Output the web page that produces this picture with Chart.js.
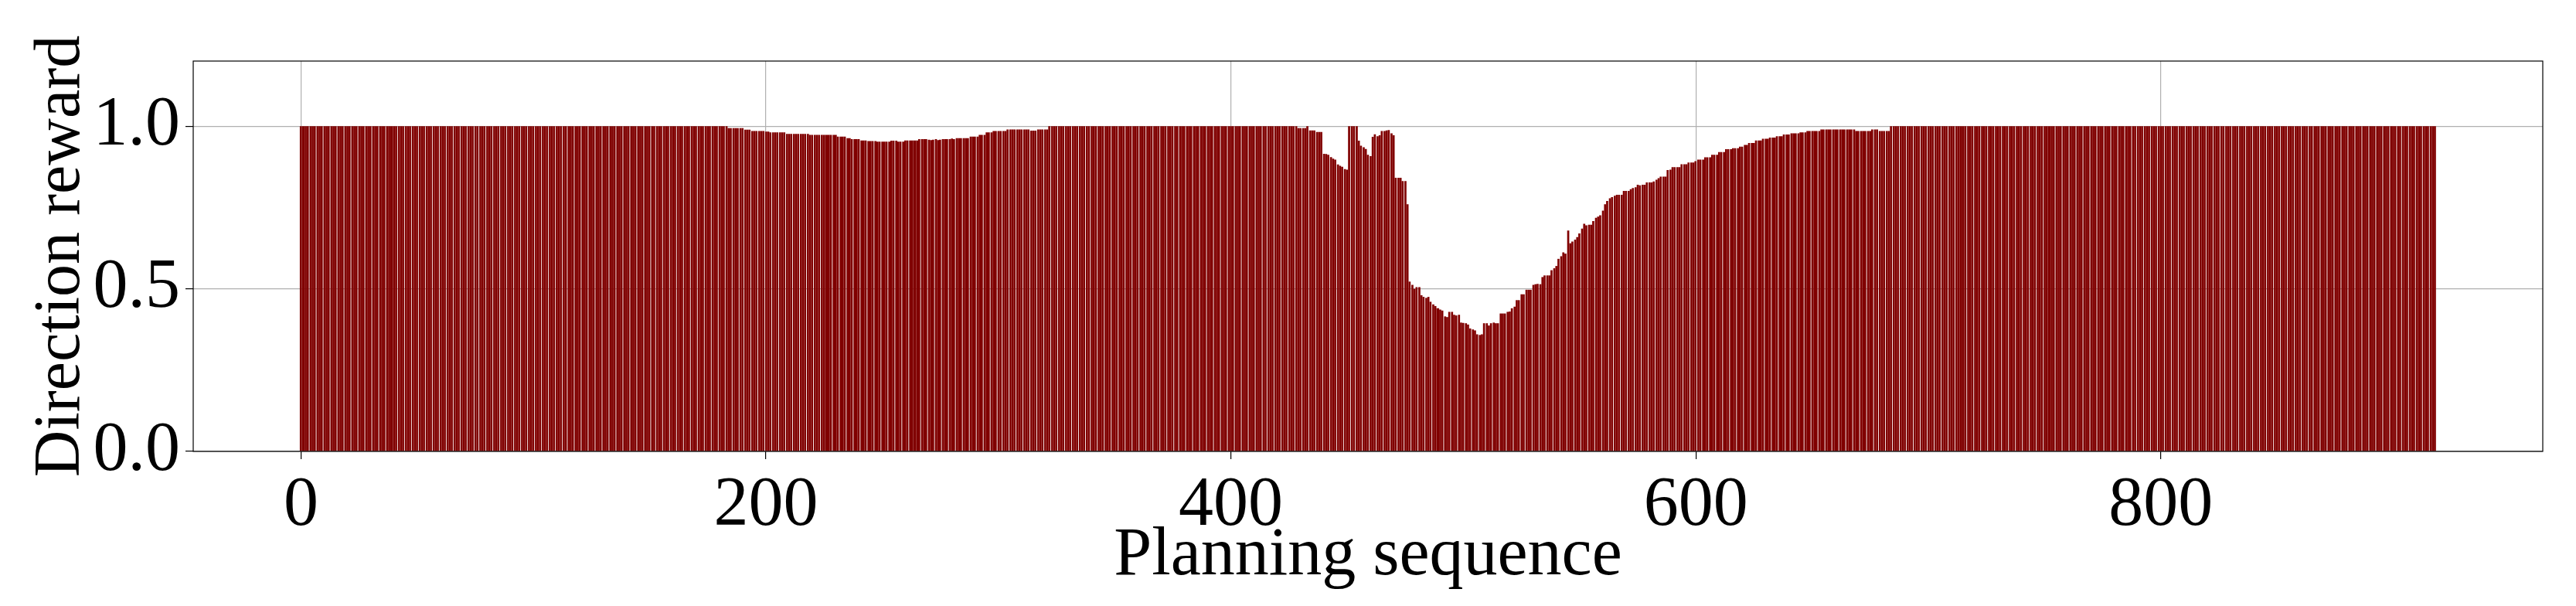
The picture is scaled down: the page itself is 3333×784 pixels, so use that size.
<!DOCTYPE html>
<html>
<head>
<meta charset="utf-8">
<script src="https://cdn.jsdelivr.net/npm/chart.js@4.4.0/dist/chart.umd.min.js"></script>
<style>
  body { margin: 0; background: #fff; }
  canvas { display: block; }
</style>
</head>
<body>
<canvas id="rewardChart" width="3333" height="784"></canvas>
<script>
const xTicks = [0, 200, 400, 600, 800];
const yTicks = [0, 0.5, 1.0];

// direction reward per planning step (20 per row)
const rewards = [
  1, 1, 1, 1, 1, 1, 1, 1, 1, 1, 1, 1, 1, 1, 1, 1, 1, 1, 1, 1, // 0
  1, 1, 1, 1, 1, 1, 1, 1, 1, 1, 1, 1, 1, 1, 1, 1, 1, 1, 1, 1, // 20
  1, 1, 1, 1, 1, 1, 1, 1, 1, 1, 1, 1, 1, 1, 1, 1, 1, 1, 1, 1, // 40
  1, 1, 1, 1, 1, 1, 1, 1, 1, 1, 1, 1, 1, 1, 1, 1, 1, 1, 1, 1, // 60
  1, 1, 1, 1, 1, 1, 1, 1, 1, 1, 1, 1, 1, 1, 1, 1, 1, 1, 1, 1, // 80
  1, 1, 1, 1, 1, 1, 1, 1, 1, 1, 1, 1, 1, 1, 1, 1, 1, 1, 1, 1, // 100
  1, 1, 1, 1, 1, 1, 1, 1, 1, 1, 1, 1, 1, 1, 1, 1, 1, 1, 1, 1, // 120
  1, 1, 1, 1, 1, 1, 1, 1, 1, 1, 1, 1, 1, 1, 1, 1, 1, 1, 1, 1, // 140
  1, 1, 1, 1, 1, 1, 1, 1, 1, 1, 1, 1, 1, 1, 1, 1, 1, 1, 1, 1, // 160
  1, 1, 1, 1, 0.994, 0.994, 0.994, 0.994, 0.994, 0.994, 0.994, 0.989, 0.989, 0.989, 0.985, 0.985, 0.985, 0.985, 0.985, 0.985, // 180
  0.983, 0.983, 0.981, 0.981, 0.981, 0.981, 0.981, 0.981, 0.981, 0.976, 0.976, 0.976, 0.976, 0.976, 0.976, 0.976, 0.976, 0.976, 0.976, 0.973, // 200
  0.973, 0.973, 0.973, 0.973, 0.973, 0.973, 0.973, 0.973, 0.973, 0.973, 0.973, 0.968, 0.968, 0.968, 0.968, 0.963, 0.963, 0.96, 0.96, 0.96, // 220
  0.96, 0.956, 0.956, 0.956, 0.954, 0.954, 0.954, 0.954, 0.952, 0.952, 0.952, 0.952, 0.952, 0.952, 0.955, 0.955, 0.955, 0.952, 0.952, 0.952, // 240
  0.956, 0.956, 0.956, 0.956, 0.956, 0.956, 0.96, 0.96, 0.96, 0.96, 0.958, 0.957, 0.958, 0.96, 0.957, 0.958, 0.96, 0.96, 0.96, 0.96, // 260
  0.962, 0.96, 0.963, 0.963, 0.963, 0.963, 0.963, 0.963, 0.968, 0.968, 0.968, 0.968, 0.973, 0.973, 0.973, 0.981, 0.981, 0.981, 0.985, 0.985, // 280
  0.985, 0.985, 0.985, 0.985, 0.99, 0.99, 0.99, 0.99, 0.99, 0.99, 0.99, 0.99, 0.99, 0.99, 0.986, 0.986, 0.986, 0.99, 0.99, 0.99, // 300
  0.99, 0.99, 1, 1, 1, 1, 1, 1, 1, 1, 1, 1, 1, 1, 1, 1, 1, 1, 1, 1, // 320
  1, 1, 1, 1, 1, 1, 1, 1, 1, 1, 1, 1, 1, 1, 1, 1, 1, 1, 1, 1, // 340
  1, 1, 1, 1, 1, 1, 1, 1, 1, 1, 1, 1, 1, 1, 1, 1, 1, 1, 1, 1, // 360
  1, 1, 1, 1, 1, 1, 1, 1, 1, 1, 1, 1, 1, 1, 1, 1, 1, 1, 1, 1, // 380
  1, 1, 1, 1, 1, 1, 1, 1, 1, 1, 1, 1, 1, 1, 1, 1, 1, 1, 1, 1, // 400
  1, 1, 1, 1, 1, 1, 1, 1, 1, 0.994, 0.994, 0.994, 0.994, 1, 0.987, 0.987, 0.987, 0.982, 0.982, 0.982, // 420
  0.915, 0.914, 0.912, 0.905, 0.9, 0.897, 0.882, 0.878, 0.875, 0.868, 0.866, 1, 1, 1, 1, 0.955, 0.94, 0.935, 0.93, 0.912, // 440
  0.908, 0.967, 0.975, 0.969, 0.972, 0.985, 0.985, 0.987, 0.988, 0.978, 0.972, 0.841, 0.841, 0.841, 0.831, 0.831, 0.76, 0.522, 0.512, 0.5, // 460
  0.505, 0.505, 0.48, 0.475, 0.472, 0.475, 0.46, 0.452, 0.447, 0.44, 0.436, 0.433, 0.415, 0.413, 0.429, 0.429, 0.42, 0.418, 0.42, 0.396, // 480
  0.395, 0.394, 0.39, 0.378, 0.375, 0.372, 0.36, 0.358, 0.36, 0.394, 0.394, 0.387, 0.394, 0.396, 0.394, 0.394, 0.424, 0.424, 0.424, 0.429, // 500
  0.43, 0.44, 0.445, 0.465, 0.465, 0.483, 0.483, 0.497, 0.497, 0.497, 0.512, 0.514, 0.515, 0.514, 0.536, 0.541, 0.541, 0.541, 0.557, 0.563, // 520
  0.57, 0.592, 0.6, 0.612, 0.608, 0.679, 0.64, 0.645, 0.651, 0.659, 0.67, 0.685, 0.7, 0.695, 0.697, 0.697, 0.708, 0.718, 0.722, 0.726, // 540
  0.74, 0.76, 0.77, 0.778, 0.782, 0.786, 0.789, 0.789, 0.789, 0.801, 0.801, 0.801, 0.806, 0.81, 0.812, 0.82, 0.818, 0.82, 0.82, 0.827, // 560
  0.827, 0.827, 0.83, 0.835, 0.84, 0.845, 0.845, 0.845, 0.865, 0.866, 0.874, 0.874, 0.874, 0.874, 0.883, 0.883, 0.883, 0.888, 0.888, 0.888, // 580
  0.892, 0.897, 0.897, 0.897, 0.904, 0.904, 0.904, 0.912, 0.912, 0.912, 0.92, 0.92, 0.92, 0.929, 0.929, 0.929, 0.932, 0.932, 0.932, 0.937, // 600
  0.937, 0.942, 0.942, 0.948, 0.948, 0.948, 0.956, 0.956, 0.956, 0.961, 0.961, 0.961, 0.965, 0.965, 0.965, 0.969, 0.969, 0.969, 0.974, 0.974, // 620
  0.974, 0.978, 0.978, 0.978, 0.978, 0.981, 0.981, 0.981, 0.985, 0.985, 0.985, 0.985, 0.985, 0.985, 0.99, 0.99, 0.99, 0.99, 0.99, 0.99, // 640
  0.99, 0.99, 0.99, 0.99, 0.99, 0.99, 0.99, 0.99, 0.99, 0.985, 0.985, 0.985, 0.985, 0.985, 0.985, 0.985, 0.99, 0.99, 0.99, 0.985, // 660
  0.985, 0.985, 0.985, 0.985, 1, 1, 1, 1, 1, 1, 1, 1, 1, 1, 1, 1, 1, 1, 1, 1, // 680
  1, 1, 1, 1, 1, 1, 1, 1, 1, 1, 1, 1, 1, 1, 1, 1, 1, 1, 1, 1, // 700
  1, 1, 1, 1, 1, 1, 1, 1, 1, 1, 1, 1, 1, 1, 1, 1, 1, 1, 1, 1, // 720
  1, 1, 1, 1, 1, 1, 1, 1, 1, 1, 1, 1, 1, 1, 1, 1, 1, 1, 1, 1, // 740
  1, 1, 1, 1, 1, 1, 1, 1, 1, 1, 1, 1, 1, 1, 1, 1, 1, 1, 1, 1, // 760
  1, 1, 1, 1, 1, 1, 1, 1, 1, 1, 1, 1, 1, 1, 1, 1, 1, 1, 1, 1, // 780
  1, 1, 1, 1, 1, 1, 1, 1, 1, 1, 1, 1, 1, 1, 1, 1, 1, 1, 1, 1, // 800
  1, 1, 1, 1, 1, 1, 1, 1, 1, 1, 1, 1, 1, 1, 1, 1, 1, 1, 1, 1, // 820
  1, 1, 1, 1, 1, 1, 1, 1, 1, 1, 1, 1, 1, 1, 1, 1, 1, 1, 1, 1, // 840
  1, 1, 1, 1, 1, 1, 1, 1, 1, 1, 1, 1, 1, 1, 1, 1, 1, 1, 1, 1, // 860
  1, 1, 1, 1, 1, 1, 1, 1, 1, 1, 1, 1, 1, 1, 1, 1, 1, 1, 1, 1, // 880
  1, 1, 1, 1, 1, 1, 1, 1, 1, 1, 1, 1, 1, 1, 1, 1, 1, 1, 1, // 900
];

const points = rewards.map((r, i) => ({ x: i, y: r }));

const serif = "'Liberation Serif', 'Times New Roman', serif";

// round bar edges to a coarse grid so thin white gaps show up here and there,
// the way the saved png looks, instead of one flat blended colour
const SNAP = 0.9;
const snapBars = {
  id: "snapBars",
  afterDatasetsUpdate(chart) {
    chart.getDatasetMeta(0).data.forEach((bar) => {
      const left = Math.round((bar.x - bar.width / 2) / SNAP) * SNAP;
      let right = Math.round((bar.x + bar.width / 2) / SNAP) * SNAP;
      if (right <= left) right = left + SNAP;
      bar.x = (left + right) / 2;
      bar.width = right - left;
    });
  },
};

// closed axes box
const frame = {
  id: "frame",
  afterDraw(chart) {
    const { ctx, chartArea: a } = chart;
    ctx.save();
    ctx.strokeStyle = "#000";
    ctx.lineWidth = 1.2;
    ctx.strokeRect(a.left, a.top, a.right - a.left, a.bottom - a.top);
    ctx.restore();
  },
};

const ctx = document.getElementById("rewardChart").getContext("2d");

new Chart(ctx, {
  type: "bar",
  data: {
    datasets: [
      {
        data: points,
        backgroundColor: "#800000",
        borderWidth: 0,
        inflateAmount: 0,
        barPercentage: 0.9,
        categoryPercentage: 1.0,
      },
    ],
  },
  options: {
    responsive: false,
    animation: false,
    devicePixelRatio: 1,
    layout: {
      padding: { left: 0, right: 43, top: 79, bottom: 0 },
    },
    plugins: {
      legend: { display: false },
      tooltip: { enabled: false },
    },
    scales: {
      x: {
        type: "linear",
        min: -46.34,
        max: 964.3,
        offset: false,
        z: 1,
        afterBuildTicks: (scale) => {
          scale.ticks = xTicks.map((v) => ({ value: v }));
        },
        afterFit: (scale) => {
          scale.height = 200;
        },
        grid: {
          color: "#b0b0b0",
          lineWidth: 1.2,
          offset: false,
          tickLength: 10,
          tickColor: "#000",
          tickWidth: 1.2,
        },
        border: { display: false },
        ticks: {
          color: "#000",
          padding: 7,
          maxRotation: 0,
          font: { family: serif, size: 90 },
          callback: (v) => String(v),
        },
        title: {
          display: true,
          text: "Planning sequence",
          color: "#000",
          padding: { top: 0, bottom: 11 },
          font: { family: serif, size: 88 },
        },
      },
      y: {
        min: 0,
        max: 1.2,
        z: 1,
        afterBuildTicks: (scale) => {
          scale.ticks = yTicks.map((v) => ({ value: v }));
        },
        afterFit: (scale) => {
          scale.width = 250;
        },
        grid: {
          color: "#b0b0b0",
          lineWidth: 1.2,
          tickLength: 10,
          tickColor: "#000",
          tickWidth: 1.2,
        },
        border: { display: false },
        ticks: {
          color: "#000",
          padding: 7,
          font: { family: serif, size: 90 },
          callback: (v) => v.toFixed(1),
        },
        title: {
          display: true,
          text: "Direction reward",
          color: "#000",
          padding: { top: 30, bottom: 0 },
          font: { family: serif, size: 84 },
        },
      },
    },
  },
  plugins: [snapBars, frame],
});
</script>
</body>
</html>
